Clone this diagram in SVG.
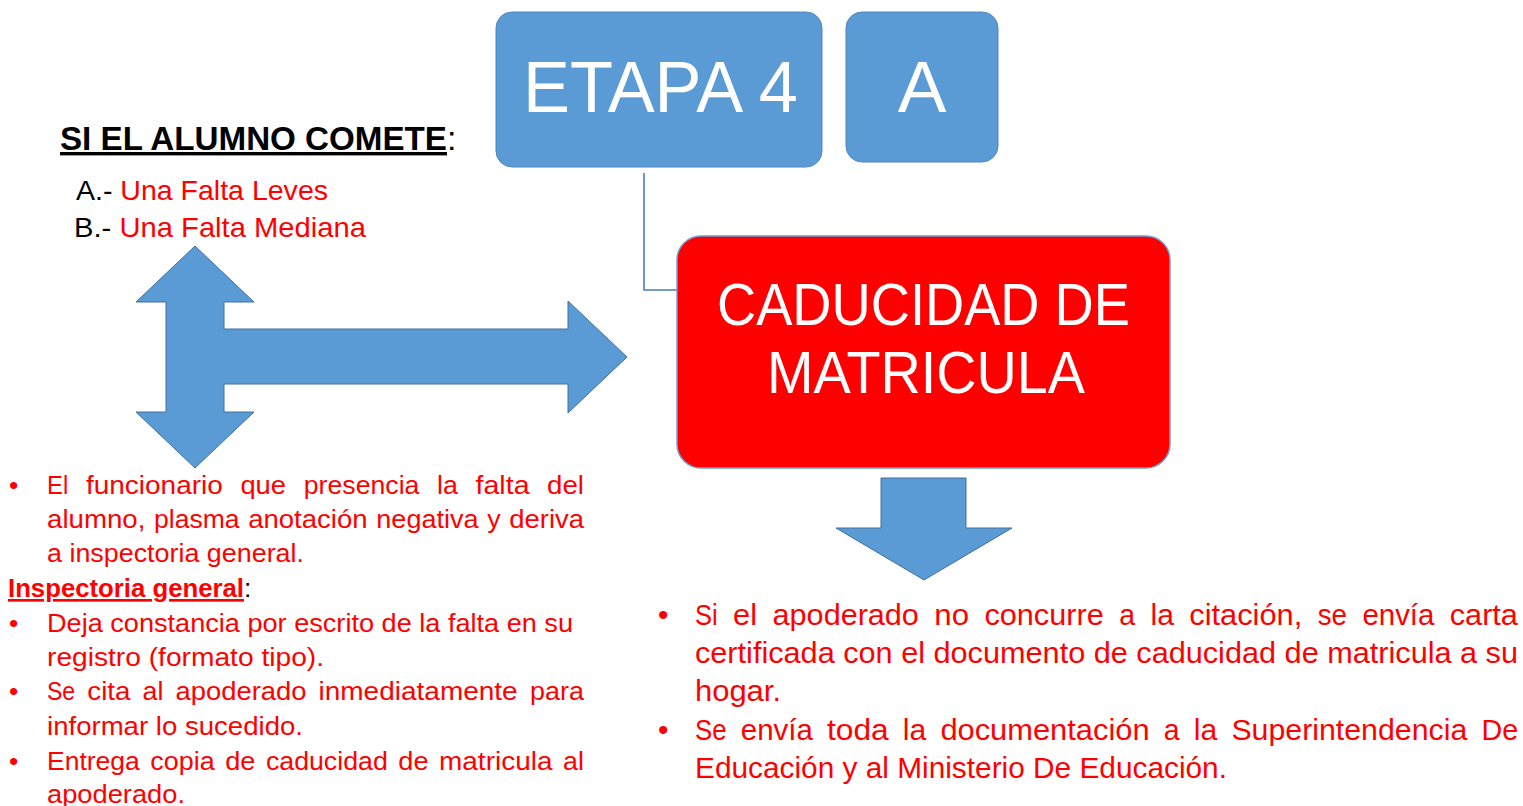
<svg xmlns="http://www.w3.org/2000/svg" width="1523" height="806" viewBox="0 0 1523 806">
<style>
.blue{fill:#5B9BD5;stroke:#4F86BE;stroke-width:1}
.arr{fill:#5B9BD5;stroke:#41719C;stroke-width:1}
.red{fill:#FF0000;stroke:#6FA0D2;stroke-width:1.5}
.wt{font-family:"Liberation Sans",Arial,sans-serif;fill:#FFFFFF}
.t{font-family:"Liberation Sans",Arial,sans-serif;fill:#FF0000}
.k{fill:#000000}
.b{font-weight:bold}
.u{text-decoration:underline}
.l{font-size:26.5px}
.r{font-size:29.7px}
.conn{fill:none;stroke:#4A7EBB;stroke-width:1.6}
</style>
<rect width="1523" height="806" fill="#FFFFFF"/>

<g id="connectors">
  <path class="conn" d="M644,173 V290 H678"/>
  <path id="cross-arrow" class="arr" d="M195,246 L254,302 L224,302 L224,329 L568,329 L568,301 L627,357 L568,413 L568,384 L224,384 L224,412 L254,412 L195,468 L136,412 L166,412 L166,302 L136,302 Z"/>
  <path id="down-arrow" class="arr" d="M881,478 L966,478 L966,528 L1012,528 L924,580 L836,528 L881,528 Z"/>
</g>

<g id="etapa4">
  <rect class="blue" x="496" y="12" width="326" height="155" rx="16"/>
  <text class="wt" x="523" y="112" font-size="73" textLength="275" lengthAdjust="spacingAndGlyphs">ETAPA 4</text>
</g>

<g id="letraA">
  <rect class="blue" x="846" y="12" width="152" height="150" rx="16"/>
  <text class="wt" x="922" y="112" font-size="73" text-anchor="middle">A</text>
</g>

<g id="caducidad">
  <rect class="red" x="677" y="236" width="493" height="232" rx="24"/>
  <text class="wt" x="717" y="325" font-size="59" textLength="413" lengthAdjust="spacingAndGlyphs">CADUCIDAD DE</text>
  <text class="wt" x="767" y="393" font-size="59" textLength="318" lengthAdjust="spacingAndGlyphs">MATRICULA</text>
</g>

<g id="encabezado">
  <text class="t k" x="60" y="150" font-size="34"><tspan class="b u" textLength="387" lengthAdjust="spacingAndGlyphs">SI EL ALUMNO COMETE</tspan><tspan>:</tspan></text>
  <text class="t" x="76" y="200" font-size="28" textLength="252" lengthAdjust="spacingAndGlyphs"><tspan class="k">A.- </tspan>Una Falta Leves</text>
  <text class="t" x="74" y="237" font-size="28" textLength="292" lengthAdjust="spacingAndGlyphs"><tspan class="k">B.- </tspan>Una Falta Mediana</text>
</g>

<g id="procedimiento">
  <text class="t l" x="9" y="494">•</text>
  <text class="t l" y="494"><tspan x="47" textLength="21.2" lengthAdjust="spacingAndGlyphs">El</tspan><tspan x="85.9" textLength="136.9" lengthAdjust="spacingAndGlyphs">funcionario</tspan><tspan x="240.4" textLength="45.7" lengthAdjust="spacingAndGlyphs">que</tspan><tspan x="303.8" textLength="115.6" lengthAdjust="spacingAndGlyphs">presencia</tspan><tspan x="437" textLength="20.9" lengthAdjust="spacingAndGlyphs">la</tspan><tspan x="475.6" textLength="53.9" lengthAdjust="spacingAndGlyphs">falta</tspan><tspan x="547.1" textLength="36.9" lengthAdjust="spacingAndGlyphs">del</tspan></text>
  <text class="t l" y="528"><tspan x="47" textLength="98.4" lengthAdjust="spacingAndGlyphs">alumno,</tspan><tspan x="154" textLength="85.6" lengthAdjust="spacingAndGlyphs">plasma</tspan><tspan x="248.2" textLength="119.4" lengthAdjust="spacingAndGlyphs">anotación</tspan><tspan x="376.3" textLength="102.3" lengthAdjust="spacingAndGlyphs">negativa</tspan><tspan x="487.2" textLength="13.4" lengthAdjust="spacingAndGlyphs">y</tspan><tspan x="509.3" textLength="74.7" lengthAdjust="spacingAndGlyphs">deriva</tspan></text>
  <text class="t l" x="47" y="562" textLength="257" lengthAdjust="spacingAndGlyphs">a inspectoria general.</text>
  <text class="t l" x="8" y="597"><tspan class="b u" textLength="236" lengthAdjust="spacingAndGlyphs">Inspectoria general</tspan><tspan class="k">:</tspan></text>
  <text class="t l" x="9" y="632">•</text>
  <text class="t l" x="47" y="632" textLength="526" lengthAdjust="spacingAndGlyphs">Deja constancia por escrito de la falta en su</text>
  <text class="t l" x="47" y="666" textLength="277" lengthAdjust="spacingAndGlyphs">registro (formato tipo).</text>
  <text class="t l" x="9" y="700">•</text>
  <text class="t l" y="700"><tspan x="47" textLength="28.2" lengthAdjust="spacingAndGlyphs">Se</tspan><tspan x="87.3" textLength="43.2" lengthAdjust="spacingAndGlyphs">cita</tspan><tspan x="142.6" textLength="20.9" lengthAdjust="spacingAndGlyphs">al</tspan><tspan x="175.6" textLength="130.8" lengthAdjust="spacingAndGlyphs">apoderado</tspan><tspan x="318.5" textLength="199.2" lengthAdjust="spacingAndGlyphs">inmediatamente</tspan><tspan x="529.9" textLength="54" lengthAdjust="spacingAndGlyphs">para</tspan></text>
  <text class="t l" x="47" y="735" textLength="256" lengthAdjust="spacingAndGlyphs">informar lo sucedido.</text>
  <text class="t l" x="9" y="770">•</text>
  <text class="t l" y="770"><tspan x="47" textLength="92.8" lengthAdjust="spacingAndGlyphs">Entrega</tspan><tspan x="150.3" textLength="64.4" lengthAdjust="spacingAndGlyphs">copia</tspan><tspan x="225.2" textLength="30.2" lengthAdjust="spacingAndGlyphs">de</tspan><tspan x="265.9" textLength="121.9" lengthAdjust="spacingAndGlyphs">caducidad</tspan><tspan x="398.3" textLength="30.2" lengthAdjust="spacingAndGlyphs">de</tspan><tspan x="439" textLength="113.5" lengthAdjust="spacingAndGlyphs">matricula</tspan><tspan x="563" textLength="20.9" lengthAdjust="spacingAndGlyphs">al</tspan></text>
  <text class="t l" x="47" y="803" textLength="138" lengthAdjust="spacingAndGlyphs">apoderado.</text>
</g>

<g id="consecuencias">
  <text class="t r" x="658" y="625">•</text>
  <text class="t r" y="625"><tspan x="695" textLength="22.7" lengthAdjust="spacingAndGlyphs">Si</tspan><tspan x="733.1" textLength="24" lengthAdjust="spacingAndGlyphs">el</tspan><tspan x="772.6" textLength="146.3" lengthAdjust="spacingAndGlyphs">apoderado</tspan><tspan x="934.3" textLength="34.7" lengthAdjust="spacingAndGlyphs">no</tspan><tspan x="984.4" textLength="119.4" lengthAdjust="spacingAndGlyphs">concurre</tspan><tspan x="1119.3" textLength="15.8" lengthAdjust="spacingAndGlyphs">a</tspan><tspan x="1150.5" textLength="23.4" lengthAdjust="spacingAndGlyphs">la</tspan><tspan x="1189.3" textLength="112.9" lengthAdjust="spacingAndGlyphs">citación,</tspan><tspan x="1317.7" textLength="29.3" lengthAdjust="spacingAndGlyphs">se</tspan><tspan x="1362.4" textLength="72" lengthAdjust="spacingAndGlyphs">envía</tspan><tspan x="1449.8" textLength="68.1" lengthAdjust="spacingAndGlyphs">carta</tspan></text>
  <text class="t r" x="695" y="663" textLength="823" lengthAdjust="spacingAndGlyphs">certificada con el documento de caducidad de matricula a su</text>
  <text class="t r" x="695" y="701" textLength="86" lengthAdjust="spacingAndGlyphs">hogar.</text>
  <text class="t r" x="658" y="740">•</text>
  <text class="t r" y="740"><tspan x="695" textLength="31.6" lengthAdjust="spacingAndGlyphs">Se</tspan><tspan x="740.8" textLength="72" lengthAdjust="spacingAndGlyphs">envía</tspan><tspan x="827" textLength="61.6" lengthAdjust="spacingAndGlyphs">toda</tspan><tspan x="902.8" textLength="23.4" lengthAdjust="spacingAndGlyphs">la</tspan><tspan x="940.4" textLength="209.2" lengthAdjust="spacingAndGlyphs">documentación</tspan><tspan x="1163.8" textLength="15.8" lengthAdjust="spacingAndGlyphs">a</tspan><tspan x="1193.8" textLength="23.4" lengthAdjust="spacingAndGlyphs">la</tspan><tspan x="1231.4" textLength="235.9" lengthAdjust="spacingAndGlyphs">Superintendencia</tspan><tspan x="1481.5" textLength="36.7" lengthAdjust="spacingAndGlyphs">De</tspan></text>
  <text class="t r" x="695" y="778" textLength="532" lengthAdjust="spacingAndGlyphs">Educación y al Ministerio De Educación.</text>
</g>
</svg>
